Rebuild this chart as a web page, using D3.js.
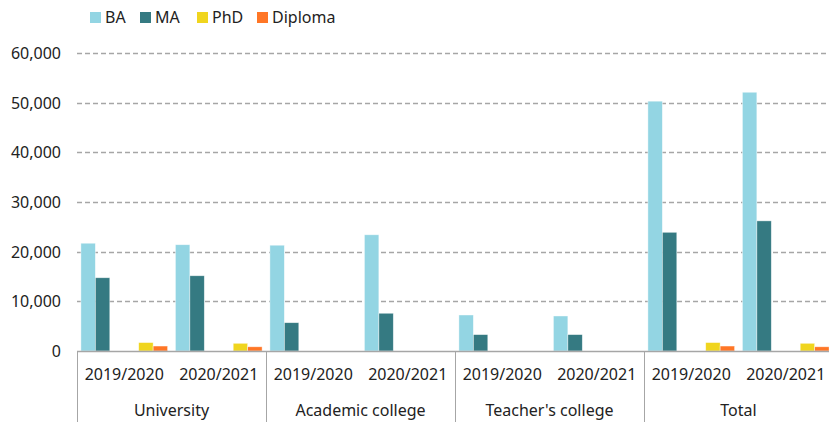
<!DOCTYPE html>
<html>
<head>
<meta charset="utf-8">
<script src="https://cdn.jsdelivr.net/npm/d3@7"></script>
<style>
  body { margin: 0; background: #fff; }
  text { font-family: "Noto Sans", sans-serif; fill: #222; }
</style>
</head>
<body>
<div class="container"></div>
<script>
// data
var groups = ["University", "Academic college", "Teacher's college", "Total"];
var years = ["2019/2020", "2020/2021"];
var series = ["BA", "MA", "PhD", "Diploma"];
var colors = ["#93d5e3", "#357a82", "#f0d51e", "#ff7626"];
var yTicks = [0, 10000, 20000, 30000, 40000, 50000, 60000];

// values per group, per year, in series order
var ba      = [[21700, 21400], [21300, 23400], [7250, 7050], [50300, 52100]];
var ma      = [[14750, 15150], [5700, 7600], [3300, 3300], [23900, 26200]];
var phd     = [[1700, 1550], [0, 0], [0, 0], [1700, 1550]];
var diploma = [[1000, 850], [0, 0], [0, 0], [1000, 850]];

var width = 829, height = 422;
var margin = {top: 53, left: 77, bottom: 71};

var svg = d3.select("div.container").append("svg")
    .attr("width", width)
    .attr("height", height);

var y_scale = d3.scaleLinear().domain([0, 60000]).range([height - margin.bottom, margin.top]);
var x0 = d3.scaleBand().domain(groups).range([margin.left, margin.left + 4 * 189]);
var x1 = d3.scaleBand().domain(years).range([0, x0.bandwidth()]);
// six slots per year; PhD and Diploma sit in the last two
var slot = d3.scaleBand().domain(d3.range(6)).range([0, x1.bandwidth()]).paddingOuter(0.27);
var slotOf = {BA: 0, MA: 1, PhD: 4, Diploma: 5};
var color = d3.scaleOrdinal().domain(series).range(colors);

// gridlines
svg.append("g").selectAll("line")
    .data(yTicks.slice(1))
    .join("line")
    .attr("x1", margin.left).attr("x2", width)
    .attr("y1", function(d) { return Math.round(y_scale(d)) + 0.5; })
    .attr("y2", function(d) { return Math.round(y_scale(d)) + 0.5; })
    .attr("stroke", "#a6a6a6")
    .attr("stroke-width", 1.3)
    .attr("stroke-dasharray", "5,3");

// y labels
svg.append("g").selectAll("text")
    .data(yTicks)
    .join("text")
    .attr("x", 61)
    .attr("y", function(d) { return y_scale(d) + 6; })
    .attr("text-anchor", "end")
    .style("font-size", "16px")
    .text(function(d) { return d3.format(",")(d); });

// bars
var rows = [];
var all = {BA: ba, MA: ma, PhD: phd, Diploma: diploma};
groups.forEach(function(g, gi) {
  years.forEach(function(yr, yi) {
    series.forEach(function(s) {
      var v = all[s][gi][yi];
      if (v > 0) rows.push({group: g, year: yr, key: s, value: v});
    });
  });
});

svg.append("g").selectAll("rect")
    .data(rows)
    .join("rect")
    .attr("x", function(d) { return x0(d.group) + x1(d.year) + slot(slotOf[d.key]); })
    .attr("y", function(d) { return y_scale(d.value); })
    .attr("width", slot.bandwidth())
    .attr("height", function(d) { return y_scale(0) - y_scale(d.value); })
    .attr("fill", function(d) { return color(d.key); })
    .attr("stroke", "#fff")
    .attr("stroke-opacity", 0.6)
    .attr("stroke-width", 0.7);

// baseline and group separators
var base = Math.round(y_scale(0)) + 0.5;
svg.append("line")
    .attr("x1", margin.left).attr("x2", width)
    .attr("y1", base).attr("y2", base)
    .attr("stroke", "#a6a6a6").attr("stroke-width", 1.3);

svg.append("g").selectAll("line")
    .data(groups)
    .join("line")
    .attr("x1", function(d) { return Math.round(x0(d)) + 0.5; })
    .attr("x2", function(d) { return Math.round(x0(d)) + 0.5; })
    .attr("y1", base).attr("y2", height)
    .attr("stroke", "#a6a6a6").attr("stroke-width", 1);

// year labels
var yl = [];
groups.forEach(function(g) { years.forEach(function(yr) { yl.push({g: g, y: yr}); }); });
svg.append("g").selectAll("text")
    .data(yl)
    .join("text")
    .attr("x", function(d) { return x0(d.g) + x1(d.y) + x1.bandwidth() / 2; })
    .attr("y", 380)
    .attr("text-anchor", "middle")
    .style("font-size", "16px")
    .text(function(d) { return d.y; });

// group labels
svg.append("g").selectAll("text")
    .data(groups)
    .join("text")
    .attr("x", function(d) { return x0(d) + x0.bandwidth() / 2; })
    .attr("y", 416)
    .attr("text-anchor", "middle")
    .style("font-size", "16px")
    .text(function(d) { return d; });

// legend
var legX = [90, 140, 197, 257];
var leg = svg.append("g").selectAll("g")
    .data(series)
    .join("g")
    .attr("transform", function(d, i) { return "translate(" + legX[i] + ",12)"; });
leg.append("rect")
    .attr("width", 11).attr("height", 11)
    .attr("fill", function(d) { return color(d); });
leg.append("text")
    .attr("x", 15).attr("y", 11)
    .style("font-size", "16px")
    .text(function(d) { return d; });
</script>
</body>
</html>
